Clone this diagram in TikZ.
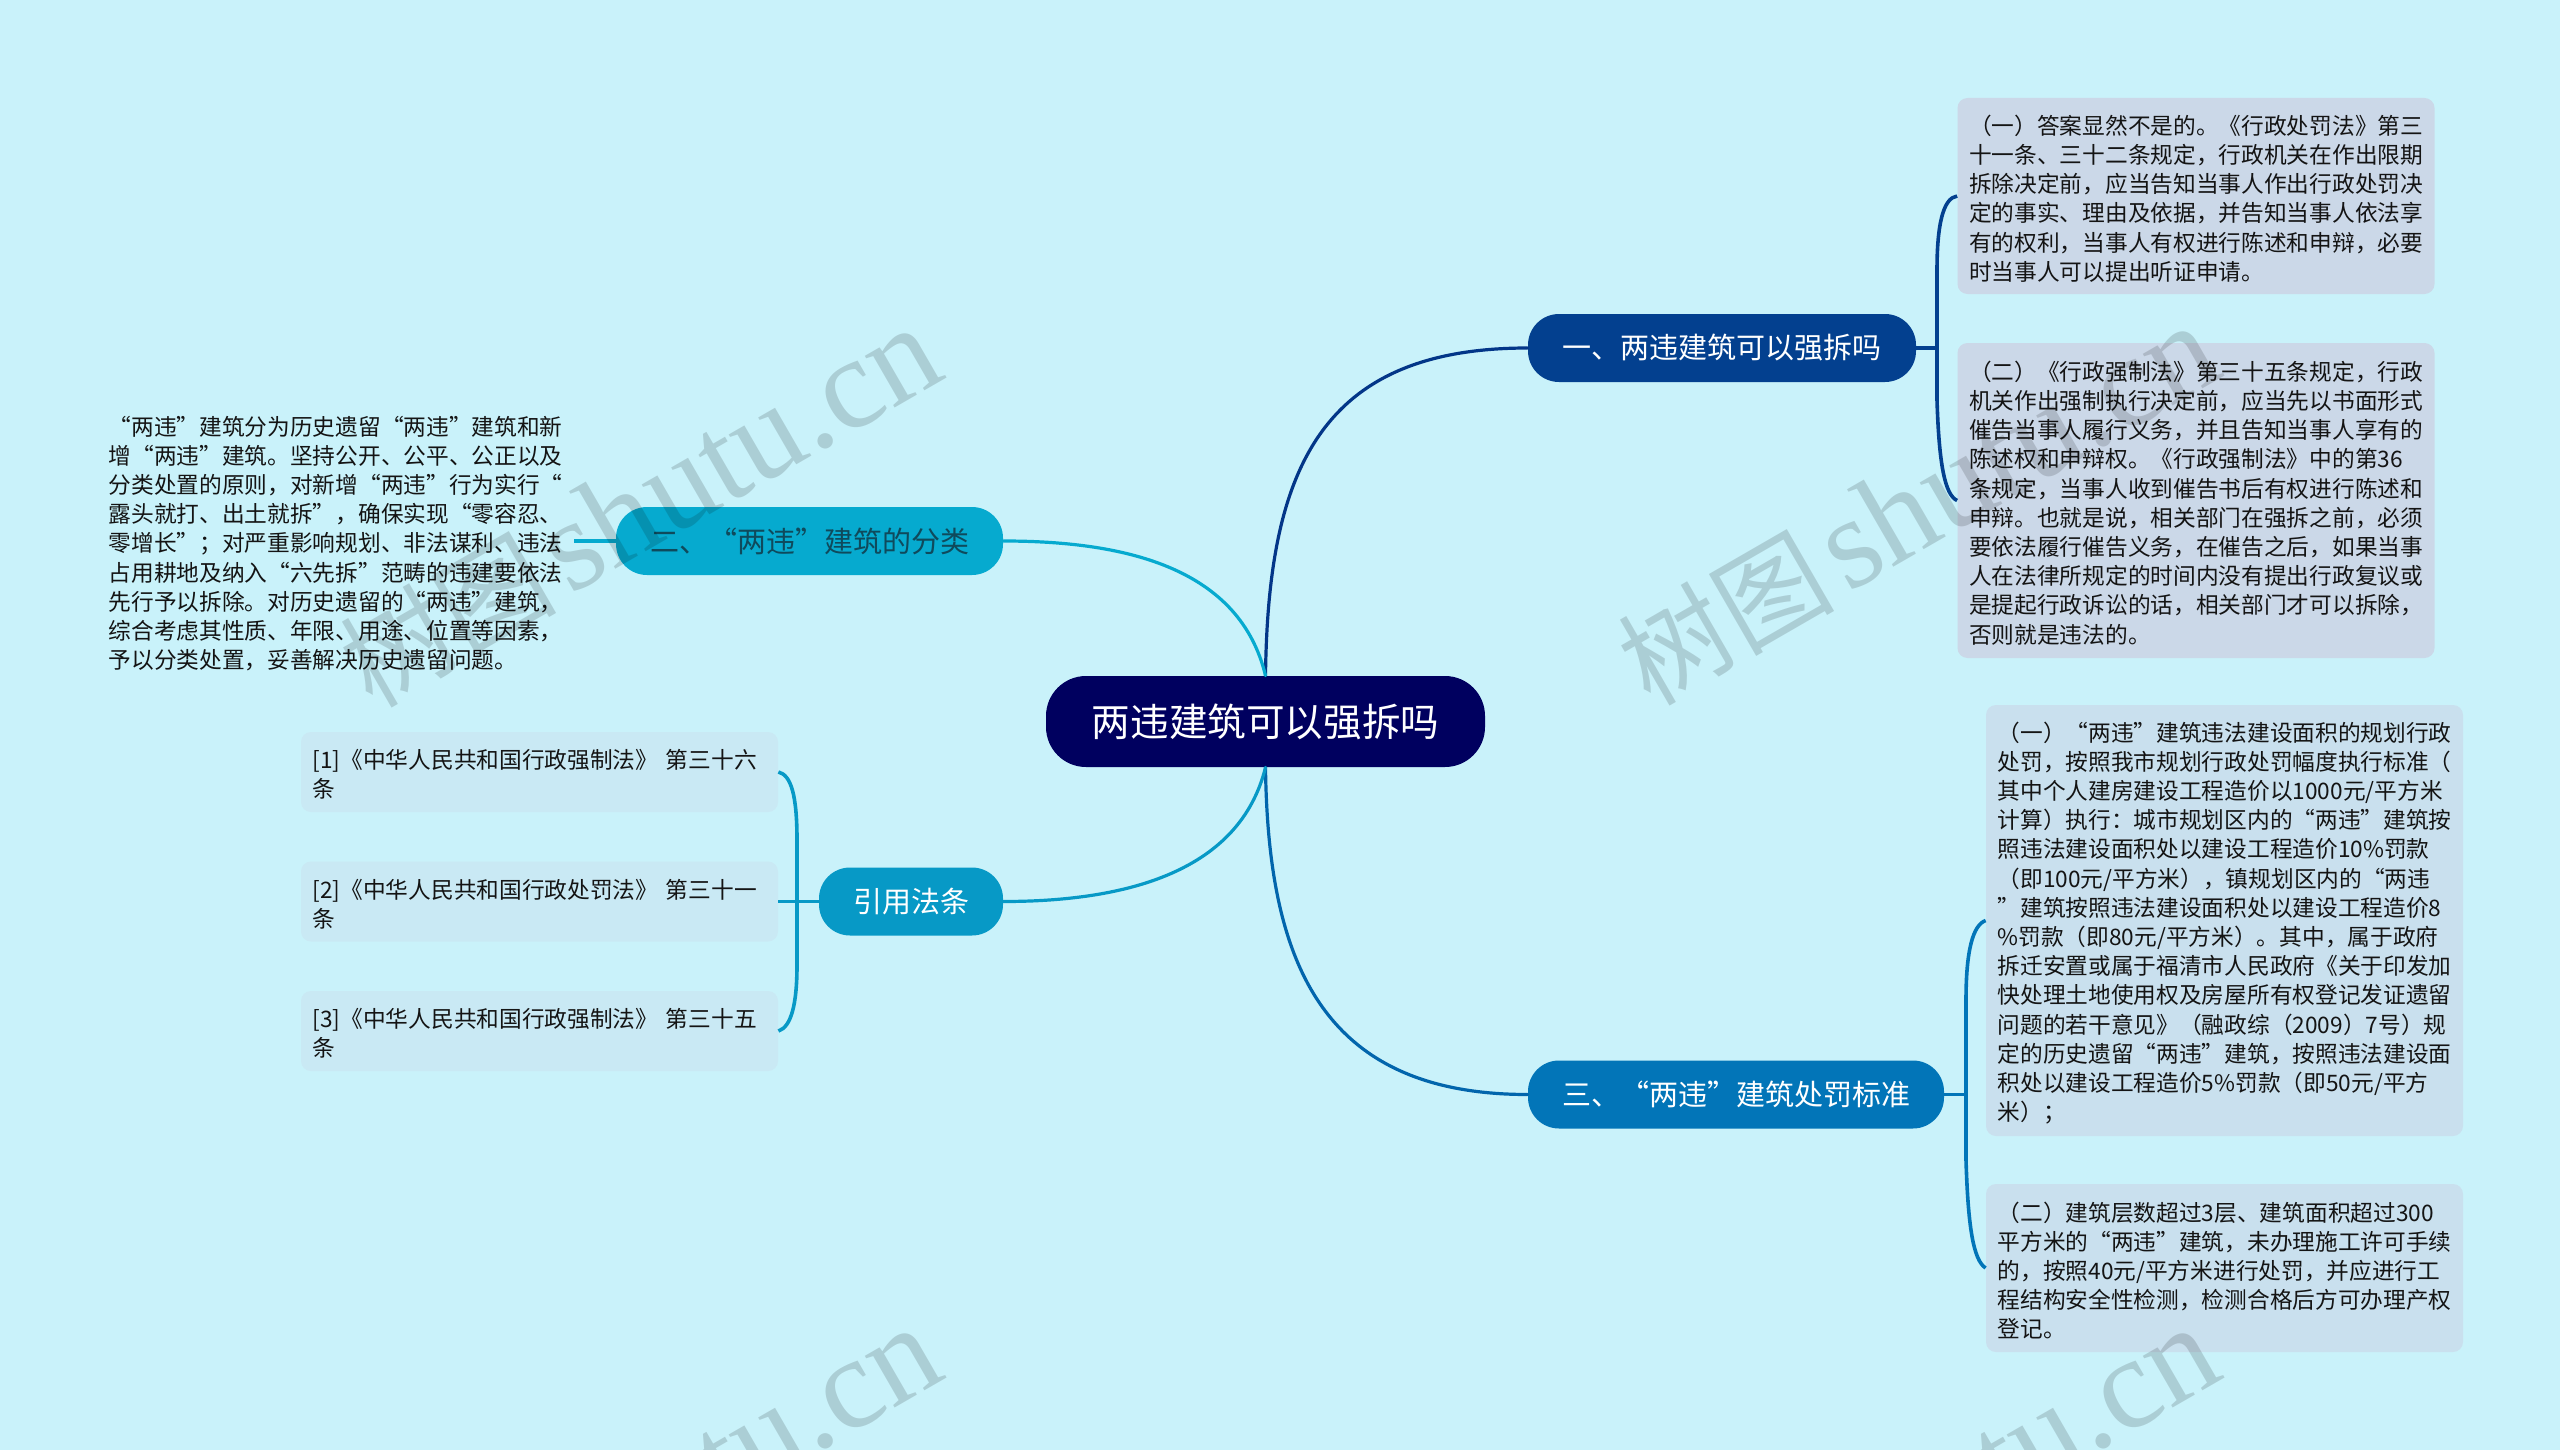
\documentclass[tikz,border=0pt]{standalone}
\usepackage{fontspec}
\setmainfont{Noto Sans CJK SC}
\newfontfamily\wmlatin{Liberation Serif}
\definecolor{bgc}{HTML}{C9F2FA}
\definecolor{rootc}{HTML}{00005F}
\definecolor{onec}{HTML}{03408F}
\definecolor{threec}{HTML}{0275B8}
\definecolor{twoc}{HTML}{06AACF}
\definecolor{fourc}{HTML}{0799C6}
\definecolor{boxa}{HTML}{CBD8E8}
\definecolor{boxc}{HTML}{C9E0EE}
\definecolor{boxr}{HTML}{C9E9F4}
\definecolor{darkt}{HTML}{0F4A5C}
\newcommand{\wmtext}{\fontsize{54}{60}\selectfont 树图\hspace{6pt}{\fontsize{65}{60}\selectfont\wmlatin shutu.cn}}
\newcommand{\lowtext}[1]{\raisebox{-0.8pt}{#1}}
\tikzset{
  x=0.5pt,y=-0.5pt,
  pill/.style={rounded corners=15.5pt,inner sep=0pt,text=white,font=\fontsize{14.5}{17}\selectfont,minimum height=34pt,align=center},
  rootpill/.style={rounded corners=20pt,inner sep=0pt,text=white,fill=rootc,font=\fontsize{19.3}{23}\selectfont,minimum width=219.5pt,minimum height=45.5pt,align=center},
  para/.style={rounded corners=5pt,inner xsep=5.8pt,inner ysep=0pt,align=left,text=black!92,font=\fontsize{11.35}{14.6}\selectfont,execute at end node={\par\vspace*{-2.5pt}}},
  parbig/.style={para,text width=226.9pt,minimum width=238pt},
  link/.style={line width=1.6pt,line cap=round},
  bracelink/.style={line width=1.8pt},
  wmark/.style={rotate=30,text=black,opacity=0.145,inner sep=0pt}
}
\begin{document}
\begin{tikzpicture}
\fill[bgc] (0,0) rectangle (2560,1450);
\useasboundingbox (0,0) rectangle (2560,1450);

\node[rootpill] (root) at (1265.5,721.5) {\lowtext{两违建筑可以强拆吗}};
\node[pill,fill=onec,minimum width=194pt] (n1) at (1722,348) {\lowtext{一、两违建筑可以强拆吗}};
\node[pill,fill=threec,minimum width=208pt] (n3) at (1736,1094.5) {\lowtext{三、“两违”建筑处罚标准}};
\node[pill,fill=twoc,text=darkt,minimum width=193.5pt] (n2) at (809.5,541) {\lowtext{二、“两违”建筑的分类}};
\node[pill,fill=fourc,minimum width=92pt] (n4) at (911,901.5) {\lowtext{引用法条}};

\node[parbig,fill=boxa,minimum height=98pt] (a1) at (2196,196) {（一）答案显然不是的。《行政处罚法》第三\\十一条、三十二条规定，行政机关在作出限期\\拆除决定前，应当告知当事人作出行政处罚决\\定的事实、理由及依据，并告知当事人依法享\\有的权利，当事人有权进行陈述和申辩，必要\\时当事人可以提出听证申请。};
\node[parbig,fill=boxa,minimum height=157.5pt] (a2) at (2196,500.5) {（二）《行政强制法》第三十五条规定，行政\\机关作出强制执行决定前，应当先以书面形式\\催告当事人履行义务，并且告知当事人享有的\\陈述权和申辩权。《行政强制法》中的第36\\条规定，当事人收到催告书后有权进行陈述和\\申辩。也就是说，相关部门在强拆之前，必须\\要依法履行催告义务，在催告之后，如果当事\\人在法律所规定的时间内没有提出行政复议或\\是提起行政诉讼的话，相关部门才可以拆除，\\否则就是违法的。};
\node[parbig,fill=boxc,minimum height=215.5pt] (c1) at (2224.5,920.5) {（一）“两违”建筑违法建设面积的规划行政\\处罚，按照我市规划行政处罚幅度执行标准（\\其中个人建房建设工程造价以1000元/平方米\\计算）执行：城市规划区内的“两违”建筑按\\照违法建设面积处以建设工程造价10\%罚款\\（即100元/平方米），镇规划区内的“两违\\”建筑按照违法建设面积处以建设工程造价8\\\%罚款（即80元/平方米）。其中，属于政府\\拆迁安置或属于福清市人民政府《关于印发加\\快处理土地使用权及房屋所有权登记发证遗留\\问题的若干意见》（融政综（2009）7号）规\\定的历史遗留“两违”建筑，按照违法建设面\\积处以建设工程造价5\%罚款（即50元/平方\\米）；};
\node[parbig,fill=boxc,minimum height=84pt] (c2) at (2224.5,1268) {（二）建筑层数超过3层、建筑面积超过300\\平方米的“两违”建筑，未办理施工许可手续\\的，按照40元/平方米进行处罚，并应进行工\\程结构安全性检测，检测合格后方可办理产权\\登记。};
\node[parbig] (t2) at (335.5,541) {“两违”建筑分为历史遗留“两违”建筑和新\\增“两违”建筑。坚持公开、公平、公正以及\\分类处置的原则，对新增“两违”行为实行“\\露头就打、出土就拆”，确保实现“零容忍、\\零增长”；对严重影响规划、非法谋利、违法\\占用耕地及纳入“六先拆”范畴的违建要依法\\先行予以拆除。对历史遗留的“两违”建筑，\\综合考虑其性质、年限、用途、位置等因素，\\予以分类处置，妥善解决历史遗留问题。};
\node[parbig,fill=boxr,minimum height=40pt] (r1) at (539.5,772) {[1]《中华人民共和国行政强制法》 第三十六\\条};
\node[parbig,fill=boxr,minimum height=40pt] (r2) at (539.5,901.5) {[2]《中华人民共和国行政处罚法》 第三十一\\条};
\node[parbig,fill=boxr,minimum height=40pt] (r3) at (539.5,1031) {[3]《中华人民共和国行政强制法》 第三十五\\条};

\coordinate (bone) at (1937,348);
\coordinate (bthree) at (1966,1094.5);
\coordinate (bfour) at (797,901.5);

% main branches
\draw[link,onec!85!rootc] (root.north) .. controls (1268,470) and (1320,348) .. (n1.west);
\draw[link,threec!70!onec] (root.south) .. controls (1268,960) and (1320,1094.5) .. (n3.west);
\draw[link,twoc] (root.north) .. controls (1240,570) and (1130,541) .. (n2.east);
\draw[link,fourc] (root.south) .. controls (1240,870) and (1130,901.5) .. (n4.east);

% braces
\draw[bracelink,onec] (n1.east) -- (bone);
\draw[bracelink,onec] (a1.west) .. controls (1943,198) and (1937,225) .. (1937,270) -- (1937,400) .. controls (1939,465) and (1945,495) .. (a2.west);
\draw[bracelink,threec] (n3.east) -- (bthree);
\draw[bracelink,threec] (c1.west) .. controls (1973,925) and (1966,950) .. (1966,1000) -- (1966,1160) .. controls (1968,1225) and (1973,1260) .. (c2.west);
\draw[bracelink,twoc] (t2.east) -- (n2.west);
\draw[bracelink,fourc] (n4.west) -- (bfour);
\draw[bracelink,fourc] (r2.east) -- (bfour);
\draw[bracelink,fourc] (r1.east) .. controls (791,775) and (797,795) .. (797,840) -- (797,965) .. controls (797,1005) and (791,1027) .. (r3.east);

% watermarks
\node[wmark] (w1) at (640,508) {\wmtext};
\node[wmark] (w2) at (1918,506) {\wmtext};
\node[wmark] (w3) at (640,1508) {\wmtext};
\node[wmark] (w4) at (1918,1508) {\wmtext};
\end{tikzpicture}
\end{document}
